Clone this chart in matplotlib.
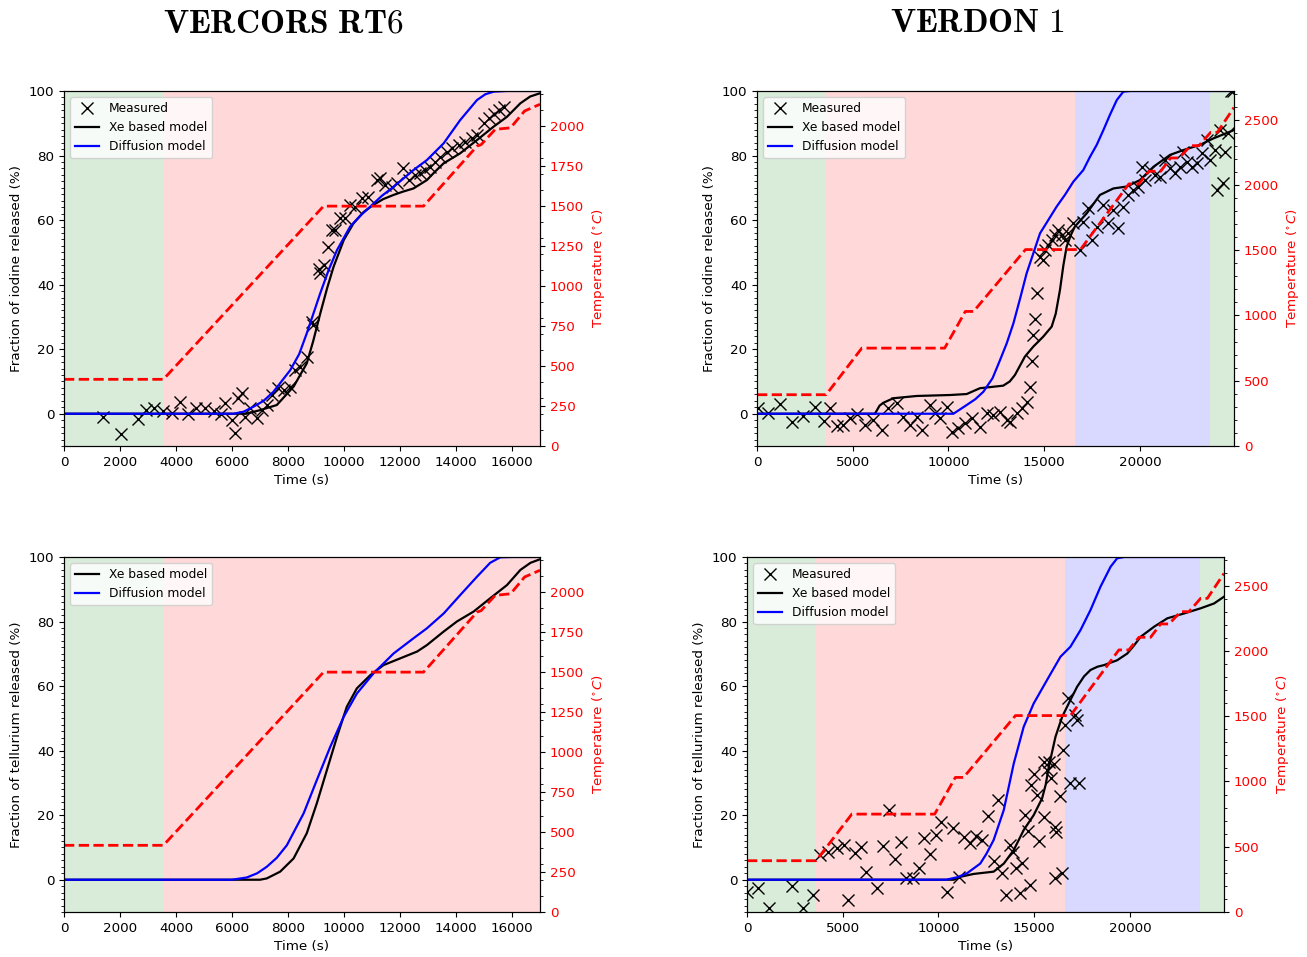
import matplotlib
matplotlib.use("Agg")
import matplotlib.pyplot as plt
from matplotlib.ticker import MultipleLocator

plt.rcParams["font.size"] = 9.7

# ---- VERCORS RT6 ----
rt6_temp_t = [0, 3550, 9270, 12840, 14750, 14900, 15400, 15950, 16450, 17000]
rt6_temp = [417, 417, 1500, 1500, 1875, 1885, 1980, 1990, 2095, 2137]

rt6_i_xe_t = [0, 6500, 7000, 7600, 8200, 8670, 8900, 9150, 9400, 9630, 9990, 10340,
              10700, 11050, 11400, 11770, 12100, 12480, 12960, 13250, 13560, 14150,
              14750, 15350, 15820, 16300, 16650, 17000]
rt6_i_xe = [0, 0, 1.1, 2.7, 8.4, 15.6, 22.5, 31, 39, 45.6, 53.8, 59,
            62.5, 64.7, 66.5, 67.8, 68.8, 69.8, 72.4, 75, 77.6, 80.7,
            84.8, 89, 92, 96.2, 98.3, 99.3]
rt6_i_diff_t = [0, 6050, 6410, 6770, 7130, 7480, 8080, 8400, 8670, 9150, 9450, 9750,
                10220, 10600, 10940, 11350, 11770, 12480, 12960, 13560, 14150, 14750,
                15050, 15350, 15800, 17000]
rt6_i_diff = [0, 0, 0.6, 2.2, 4, 6.8, 13.5, 18.5, 24.9, 37.3, 44.5, 50.7,
              58, 61.5, 64.2, 67.5, 70.3, 75.5, 78.6, 83.8, 91, 97.2,
              99, 99.8, 100, 100]
rt6_i_meas_t = [1410, 2040, 2630, 2930, 3230, 3550, 3850, 4130, 4420, 4720, 5040, 5340,
                5610, 5760, 6000, 6110, 6230, 6350, 6470, 6650, 6890, 7070, 7240, 7420,
                7660, 7840, 8080, 8260, 8430, 8670, 8850, 8910, 9090, 9150, 9270, 9440,
                9560, 9680, 9860, 10040, 10220, 10400, 10640, 10870, 11170, 11290, 11470,
                11710, 11890, 12120, 12310, 12550, 12730, 12910, 13080, 13260, 13440,
                13680, 13860, 14090, 14330, 14570, 14750, 14990, 15170, 15350, 15520, 15700]
rt6_i_meas = [-0.9, -6.3, -1.7, 1.1, 1.7, 0.9, 0.1, 3.7, -0.2, 1.7, 1.7, 0.9,
              -0.2, 3.2, -2.0, -5.9, 4.8, 6.3, -1.1, 1.7, -1.4, 1.1, 2.7, 5.8,
              7.9, 7.3, 8.4, 13.5, 14.6, 17.7, 28.5, 27.5, 45, 43.5, 46, 51.8,
              57, 57, 60.5, 60.5, 64.7, 64.2, 66.7, 67.3, 72.4, 72.9, 70.9,
              70.3, 71.4, 76, 72.4, 74, 74.5, 75.5, 76.5, 78, 79.6,
              81.2, 82.2, 83.3, 84.3, 85.3, 86.4, 90, 91.5, 93, 94.1, 95.1]

rt6_te_xe_t = [0, 7000, 7240, 7720, 8200, 8670, 9030, 9390, 9750, 10100, 10460, 10940,
               11410, 12010, 12610, 12960, 13560, 14030, 14630, 15220, 15820, 16300,
               16660, 17000]
rt6_te_xe = [0, 0, 0.4, 2.5, 6.6, 14.4, 23.7, 34, 44.3, 53.6, 59.3, 63.4,
             66.5, 68.6, 70.7, 72.7, 76.9, 80, 83.1, 87.2, 91.3, 96, 98.2, 99.3]
rt6_te_diff_t = [0, 6000, 6530, 6900, 7240, 7600, 7960, 8560, 9030, 9510, 9990, 10460,
                 11060, 11770, 12480, 12960, 13560, 14150, 14750, 15220, 15580, 16000,
                 17000]
rt6_te_diff = [0, 0, 0.7, 2, 4, 6.8, 10.7, 20.6, 30.9, 41.2, 50.5, 57.7,
               64, 70.1, 74.8, 77.9, 82.5, 88.2, 93.9, 98.2, 99.9, 100, 100]

# ---- VERDON 1 ----
vd_temp_t = [0, 3610, 5475, 9800, 10880, 11310, 14020, 16890, 19420, 19940, 20470,
             21080, 21600, 22040, 22650, 23080, 23690, 24040, 24910]
vd_temp = [393, 393, 750, 750, 1031, 1031, 1505, 1505, 2008, 2008, 2105,
           2105, 2207, 2207, 2301, 2301, 2403, 2403, 2594]

vd_i_xe_t = [0, 6160, 6400, 6600, 7120, 8340, 10080, 10950, 11640, 12860, 13200,
             13470, 13990, 14430, 14950, 15390, 15600, 15820, 16000, 16170, 16400,
             16600, 17220, 17910, 18610, 19310, 20000, 20700, 21570, 22270, 23130,
             23830, 24910]
vd_i_xe = [0, 0, 2.5, 3.4, 4.8, 5.5, 5.8, 6.1, 7.9, 8.7, 10,
           12, 17.7, 20.8, 23.9, 27, 31, 38.3, 46, 51.8, 55.5,
           58, 62.1, 67.8, 69.8, 70.4, 72.4, 76.5, 80.2, 81.7, 83.3,
           85.3, 87.9]
vd_i_diff_t = [0, 10260, 10950, 11400, 11820, 12300, 12690, 13040, 13390, 13740,
               14080, 14430, 14780, 15210, 15650, 16080, 16520, 17040, 17390, 17740,
               18090, 18430, 18790, 19130, 19500, 24910]
vd_i_diff = [0, 0, 2.7, 4.5, 6.8, 11, 16.6, 21.8, 28, 35.7,
             43.5, 49.7, 55.9, 60, 64.2, 67.8, 71.9, 75.5, 79.6, 83.3,
             87.9, 92.6, 97.2, 99.8, 100, 100]
vd_i_meas_t = [70, 590, 1200, 1810, 2420, 3030, 3500, 3810, 4160, 4510, 4860, 5200,
               5640, 6070, 6510, 6860, 7290, 7640, 7990, 8340, 8600, 9030, 9290, 9560,
               9900, 10170, 10510, 10860, 11210, 11640, 11990, 12340, 12690, 13040,
               13210, 13560, 13820, 14080, 14260, 14340, 14430, 14520, 14600, 14780,
               14950, 15040, 15210, 15390, 15560, 15740, 15910, 16080, 16260, 16520,
               16870, 17040, 17300, 17480, 17740, 18090, 18350, 18610, 18870, 19130,
               19390, 19650, 19910, 20090, 20260, 20520, 20780, 21050, 21310, 21570,
               21830, 22090, 22270, 22440, 22700, 22960, 23220, 23480, 23660, 23920,
               24000, 24180, 24350, 24440, 24610, 24750, 24880]
vd_i_meas = [1.7, 0.1, 3.0, -2.5, -0.7, 2.0, -2.2, 1.7, -3.8, -3.5, -1.4, -0.2,
             -3.5, -2.0, -5.1, 1.7, 3.2, -0.9, -3.5, -0.9, -5.1, 2.7, 0.1, -1.4,
             2.2, -5.6, -4.5, -3.0, -1.4, -4.0, 0.1, -0.4, 0.6, -2.0,
             -2.5, 0.1, 1.7, 3.7, 8.4, 16.3, 24.4, 29.2, 37.3, 48.7,
             47.6, 50.7, 52.3, 53.8, 55.4, 56.9, 55.4, 53.8, 55.9, 59,
             50.7, 59.5, 63.6, 53.8, 58, 64.7, 59, 63.1, 57.4, 64.2,
             67.8, 69.3, 70.4, 76.5, 72.4, 75.5, 74, 73.5, 78.6, 76,
             74.5, 76.5, 81.2, 78.1, 76.5, 77.6, 80.7, 84.8, 78.6, 81.7,
             69.3, 87.9, 71.4, 81.2, 86.9, 100, 100]

vd_te_xe_t = [0, 10800, 11140, 11840, 12880, 13410, 13930, 14450, 14970, 15410,
              15600, 15760, 16110, 16460, 16890, 17240, 17600, 17940, 18300, 18640,
              19330, 19860, 20200, 20560, 21260, 21950, 22820, 23690, 24390, 24910]
vd_te_xe = [0, 0, 0.9, 1.8, 2.5, 5, 9.2, 15.4, 20, 25.2,
            29.5, 35, 44.3, 50.5, 55.7, 59.8, 63, 65, 66, 66.5,
            68, 70.1, 72.5, 75.3, 78.4, 81, 82.5, 84.1, 85.6, 87.7]
vd_te_diff_t = [0, 10400, 11000, 11490, 12180, 12500, 12880, 13410, 13930, 14450,
                14970, 15670, 16370, 16890, 17420, 17940, 18460, 18990, 19330, 19700,
                24910]
vd_te_diff = [0, 0, 0.8, 2, 5, 8, 12.3, 21.6, 36, 47.4,
              54.6, 61.9, 69.1, 72.2, 77.4, 83.6, 90.8, 97, 99.6, 100,
              100]
vd_te_meas_t = [0, 590, 1170, 2340, 2950, 3440, 3820, 4250, 4690, 5040, 5250, 5650,
                5950, 6220, 6780, 7100, 7440, 7710, 8040, 8300, 8660, 8960, 9220,
                9570, 9870, 10150, 10440, 10740, 11050, 11350, 11660, 11980, 12270,
                12570, 12880, 13090, 13320, 13530, 13720, 13890, 14070, 14240, 14370,
                14540, 14660, 14770, 14840, 15010, 15120, 15270, 15530, 15500, 15670,
                15760, 15880, 16020, 16110, 16160, 16370, 16060, 16460, 16510, 16630,
                16770, 16860, 17150, 17240, 17330]
vd_te_meas = [-3.7, -2.7, -8.9, -2.0, -8.9, -4.8, 7.6, 8.7, 9.9, 10.7, -6.3, 8.4,
              10.2, 2.5, -2.7, 10.4, 21.6, 6.3, 11.6, 0.4, 0.4, 3.5, 12.8,
              8, 14, 18, -3.7, 15.9, 0.9, 13.1, 11.3, 13.5, 12.3,
              19.8, 5.9, 24.7, 2, -4.8, 10.7, 8.7, 3.5, -4.2, 5.1,
              20.2, 15.1, -1.7, 29.3, 32.7, 26.2, 12, 19.3, 36.6, 34,
              36.6, 31.4, 36, 16.4, 14.9, 25.9, 0.4, 2, 40.2, 47.9,
              56.4, 30.1, 51, 49.5, 30.1]

W, H = 1307, 957
fig = plt.figure(figsize=(W / 100, H / 100), dpi=100)


def box(left, right, top, bottom):
    return [left / W, 1 - bottom / H, (right - left) / W, (bottom - top) / H]


def panel(rect, xmax, spans, temp_t, temp, tmax, xe, diff, meas, ylabel):
    ax = fig.add_axes(rect)
    for a, b, c in spans:
        ax.axvspan(a, b, color=c, alpha=0.15, lw=0)
    if meas is not None:
        ax.plot(meas[0], meas[1], "x", color="black", ms=8, mew=1, label="Measured")
    ax.plot(xe[0], xe[1], color="black", lw=1.6, label="Xe based model")
    ax.plot(diff[0], diff[1], color="blue", lw=1.6, label="Diffusion model")
    ax.set_xlim(0, xmax)
    ax.set_ylim(-10, 100)
    ax.yaxis.set_minor_locator(MultipleLocator(2))
    ax.set_xlabel("Time (s)")
    ax.set_ylabel(ylabel)
    ax.legend(loc="upper left", fontsize=8.8)
    ax2 = ax.twinx()
    ax2.plot(temp_t, temp, "--", color="red", lw=2)
    ax2.set_ylim(0, tmax)
    ax2.yaxis.set_minor_locator(MultipleLocator(100))
    ax2.tick_params(axis="y", labelcolor="red")
    ax2.set_ylabel(r"Temperature ($^{\circ}C$)", color="red")
    return ax


rt6_spans = [(0, 3550, "green"), (3550, 17000, "red")]
vd_spans = [(0, 3620, "green"), (3620, 16620, "red"), (16620, 23670, "blue"),
            (23670, 24910, "green")]

panel(box(64, 540, 91, 446), 17000, rt6_spans, rt6_temp_t, rt6_temp, 2220,
      (rt6_i_xe_t, rt6_i_xe), (rt6_i_diff_t, rt6_i_diff), (rt6_i_meas_t, rt6_i_meas),
      "Fraction of iodine released (%)")
panel(box(757, 1234, 91, 446), 24910, vd_spans, vd_temp_t, vd_temp, 2720,
      (vd_i_xe_t, vd_i_xe), (vd_i_diff_t, vd_i_diff), (vd_i_meas_t, vd_i_meas),
      "Fraction of iodine released (%)")
panel(box(64, 540, 557, 912), 17000, rt6_spans, rt6_temp_t, rt6_temp, 2220,
      (rt6_te_xe_t, rt6_te_xe), (rt6_te_diff_t, rt6_te_diff), None,
      "Fraction of tellurium released (%)")
panel(box(747, 1224, 557, 912), 24910, vd_spans, vd_temp_t, vd_temp, 2720,
      (vd_te_xe_t, vd_te_xe), (vd_te_diff_t, vd_te_diff), (vd_te_meas_t, vd_te_meas),
      "Fraction of tellurium released (%)")

fig.text(283 / W, 1 - 23 / H, r"$\mathbf{VERCORS\ RT6}$", math_fontfamily="cm",
         fontsize=24, ha="center", va="center")
fig.text(977 / W, 1 - 23 / H, r"$\mathbf{VERDON\ 1}$", math_fontfamily="cm",
         fontsize=24, ha="center", va="center")

fig.savefig("out.png", dpi=100)
